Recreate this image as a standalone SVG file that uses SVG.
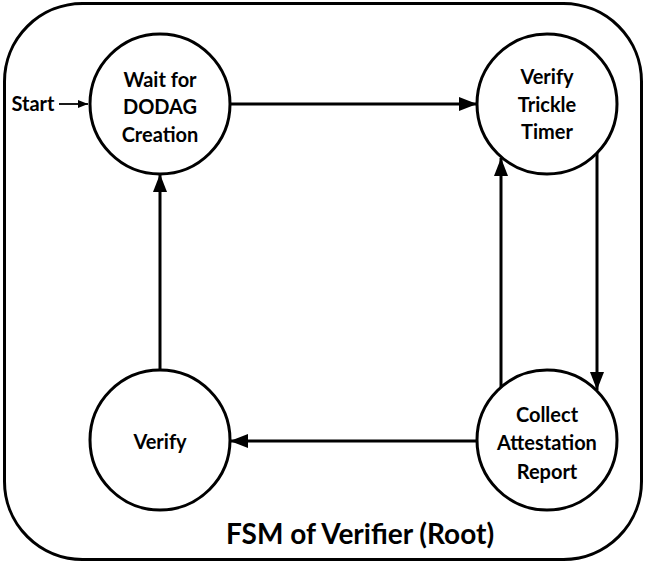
<svg xmlns="http://www.w3.org/2000/svg" width="645" height="562" viewBox="0 0 645 562">
  <style>
    .frame { fill: none; stroke: #000; stroke-width: 3; }
    .state { fill: #fff; stroke: #000; stroke-width: 3; }
    .label { font-family: Lato, "Open Sans", "Liberation Sans", sans-serif; font-weight: 700; font-size: 20px; fill: #000; text-anchor: middle; }
    .title { font-family: Lato, "Open Sans", "Liberation Sans", sans-serif; font-weight: 700; font-size: 28px; fill: #000; text-anchor: middle; }
    .edge { fill: none; stroke: #000; stroke-width: 3; }
    .start { fill: none; stroke: #000; stroke-width: 1.8; }
  </style>
  <defs>
    <marker id="arrow" markerUnits="userSpaceOnUse" markerWidth="18" markerHeight="14" refX="18" refY="7" orient="auto">
      <path d="M0,0 L18,7 L0,14 Z" fill="#000"/>
    </marker>
    <marker id="arrow-small" markerUnits="userSpaceOnUse" markerWidth="10" markerHeight="8" refX="10" refY="4" orient="auto">
      <path d="M0,0 L10,4 L0,8 Z" fill="#000"/>
    </marker>
  </defs>

  <!-- enclosing state machine boundary -->
  <rect class="frame" x="4.5" y="3.5" width="637" height="556" rx="78" ry="78"/>
  <text class="title" x="360" y="544">FSM of Verifier (Root)</text>

  <!-- transitions -->
  <g id="connectors">
    <line class="start" x1="59" y1="104" x2="88" y2="104" marker-end="url(#arrow-small)"/>
    <line class="edge" x1="230" y1="104" x2="477" y2="104" marker-end="url(#arrow)"/>
    <line class="edge" x1="597" y1="153" x2="597" y2="390" marker-end="url(#arrow)"/>
    <line class="edge" x1="501" y1="387" x2="501" y2="158" marker-end="url(#arrow)"/>
    <line class="edge" x1="477" y1="441" x2="230" y2="441" marker-end="url(#arrow)"/>
    <line class="edge" x1="160" y1="370" x2="160" y2="174" marker-end="url(#arrow)"/>
  </g>

  <g id="start-label">
    <text class="label" x="33" y="111">Start</text>
  </g>

  <g id="wait-dodag">
    <circle class="state" cx="160" cy="104" r="70"/>
    <text class="label" x="160" y="87">Wait for</text>
    <text class="label" x="160" y="114">DODAG</text>
    <text class="label" x="160" y="142">Creation</text>
  </g>

  <g id="verify-trickle">
    <circle class="state" cx="547" cy="104" r="70"/>
    <text class="label" x="547" y="84">Verify</text>
    <text class="label" x="547" y="112">Trickle</text>
    <text class="label" x="547" y="139">Timer</text>
  </g>

  <g id="collect-report">
    <circle class="state" cx="547" cy="440" r="70"/>
    <text class="label" x="547" y="422">Collect</text>
    <text class="label" x="547" y="450">Attestation</text>
    <text class="label" x="547" y="479">Report</text>
  </g>

  <g id="verify">
    <circle class="state" cx="160" cy="440" r="70"/>
    <text class="label" x="160" y="449">Verify</text>
  </g>
</svg>
